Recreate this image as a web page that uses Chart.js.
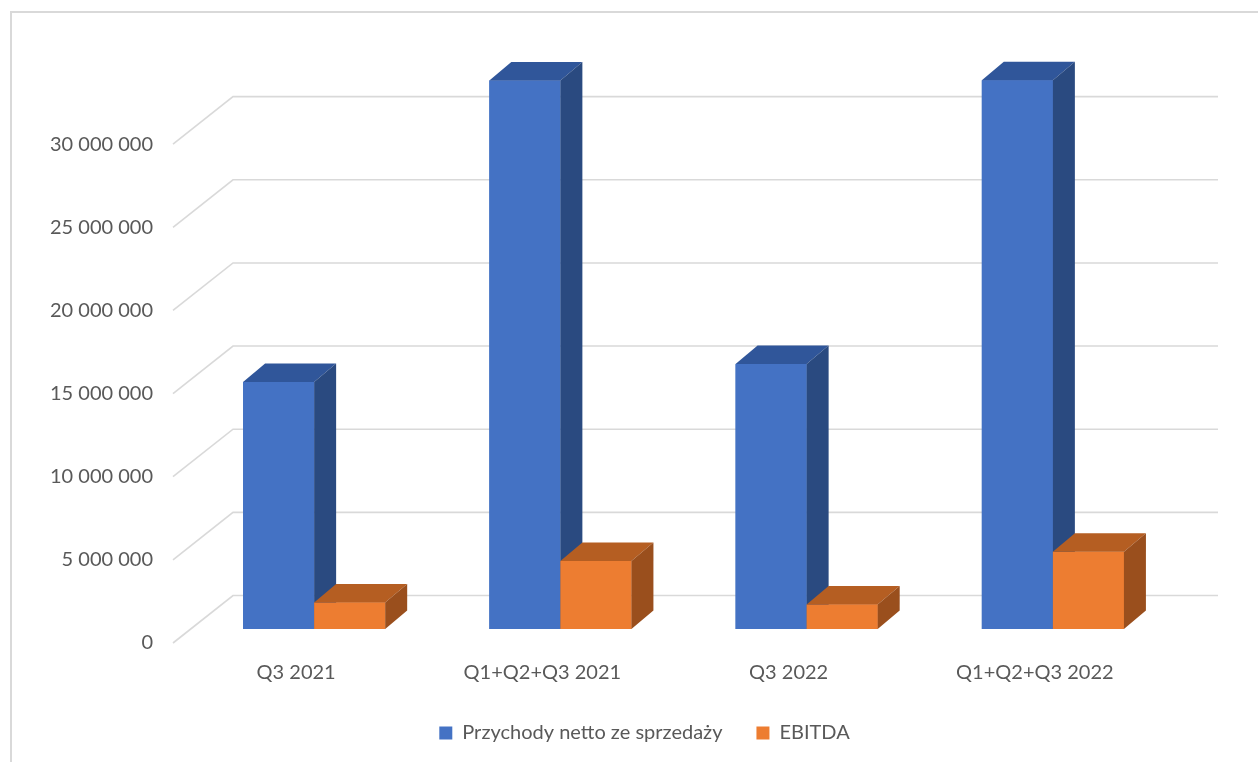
<!DOCTYPE html>
<html>
<head>
<meta charset="utf-8">
<script src="https://cdn.jsdelivr.net/npm/chart.js@4"></script>
<style>
  html, body { margin: 0; padding: 0; background: #fff; overflow: hidden; }
</style>
</head>
<body>
<canvas id="myChart" width="1258" height="762"></canvas>
<script>
// data
const categories = ['Q3 2021', 'Q1+Q2+Q3 2021', 'Q3 2022', 'Q1+Q2+Q3 2022'];
const seriesNames = ['Przychody netto ze sprzedaży', 'EBITDA'];
const revenue = [14860000, 32990000, 15930000, 33000000];
const ebitda = [1600000, 4090000, 1480000, 4650000];
const yTicks = [0, 5000000, 10000000, 15000000, 20000000, 25000000, 30000000];

// 3d look (excel style)
const wall = { dx: 60, dy: -47.5 };
const barShift = { dx: 18, dy: -14 };
const barDepth = { dx: 22, dy: -18.5 };
const faces = [
    { top: '#30569A', side: '#2A4A80' },
    { top: '#B55E22', side: '#9A4F1D' }
];
const textColor = '#595959';
const fontFamily = 'Lato, "Open Sans", sans-serif';

function fmt(v) {
    return String(v).replace(/\B(?=(\d{3})+(?!\d))/g, ' ');
}

const box3d = {
    id: 'box3d',
    beforeDraw(chart) {
        const ctx = chart.ctx;
        ctx.save();
        ctx.fillStyle = '#fff';
        ctx.fillRect(0, 0, chart.width, chart.height);
        ctx.strokeStyle = '#D9D9D9';
        ctx.lineWidth = 2;
        ctx.strokeRect(11, 12, 2000, 2000);
        ctx.restore();
    },
    beforeDatasetsDraw(chart) {
        const ctx = chart.ctx;
        const y = chart.scales.y;
        const area = chart.chartArea;
        ctx.save();
        ctx.strokeStyle = '#D9D9D9';
        ctx.lineWidth = 1.6;
        y.ticks.forEach(t => {
            const py = y.getPixelForValue(t.value);
            ctx.beginPath();
            ctx.moveTo(area.left, py);
            ctx.lineTo(area.left + wall.dx, py + wall.dy);
            ctx.lineTo(area.right + wall.dx, py + wall.dy);
            ctx.stroke();
        });
        ctx.restore();
        // bars sit in the middle of the depth
        ctx.save();
        ctx.translate(barShift.dx, barShift.dy);
    },
    afterDatasetsDraw(chart) {
        const ctx = chart.ctx;
        // paint boxes series by series so the orange front covers the blue side
        chart.data.datasets.forEach((ds, i) => {
            const c = faces[i];
            chart.getDatasetMeta(i).data.forEach(bar => {
                const p = bar.getProps(['x', 'y', 'base', 'width'], true);
                const l = p.x - p.width / 2, r = p.x + p.width / 2;
                ctx.fillStyle = bar.options.backgroundColor;
                ctx.fillRect(l, p.y, p.width, p.base - p.y);
                ctx.fillStyle = c.top;
                ctx.beginPath();
                ctx.moveTo(l, p.y);
                ctx.lineTo(r, p.y);
                ctx.lineTo(r + barDepth.dx, p.y + barDepth.dy);
                ctx.lineTo(l + barDepth.dx, p.y + barDepth.dy);
                ctx.closePath();
                ctx.fill();
                ctx.fillStyle = c.side;
                ctx.beginPath();
                ctx.moveTo(r, p.y);
                ctx.lineTo(r + barDepth.dx, p.y + barDepth.dy);
                ctx.lineTo(r + barDepth.dx, p.base + barDepth.dy);
                ctx.lineTo(r, p.base);
                ctx.closePath();
                ctx.fill();
            });
        });
        ctx.restore();
    }
};

const ctx = document.getElementById('myChart').getContext('2d');
new Chart(ctx, {
    type: 'bar',
    data: {
        labels: categories,
        datasets: [{
            label: seriesNames[0],
            data: revenue,
            backgroundColor: '#4472C4',
            clip: false,
            categoryPercentage: 0.577,
            barPercentage: 1
        }, {
            label: seriesNames[1],
            data: ebitda,
            backgroundColor: '#ED7D31',
            clip: false,
            categoryPercentage: 0.577,
            barPercentage: 1
        }]
    },
    options: {
        responsive: false,
        animation: false,
        layout: { padding: { left: 0, right: -31, top: 61, bottom: 9 } },
        plugins: {
            tooltip: { enabled: false },
            legend: {
                position: 'bottom',
                labels: {
                    boxWidth: 13,
                    boxHeight: 13,
                    padding: 34,
                    color: textColor,
                    font: { family: fontFamily, size: 20 }
                }
            }
        },
        scales: {
            x: {
                grid: { display: false, drawTicks: false },
                border: { display: false },
                ticks: { color: textColor, font: { family: fontFamily, size: 20 }, padding: 18 },
                afterFit(s) { s.height = 46; }
            },
            y: {
                min: 0,
                max: 35000000,
                grid: { display: false, drawTicks: false },
                border: { display: false },
                afterBuildTicks(s) { s.ticks = yTicks.map(v => ({ value: v })); },
                ticks: {
                    color: textColor,
                    font: { family: fontFamily, size: 20 },
                    padding: 20,
                    callback: v => fmt(v)
                },
                afterFit(s) { s.width = 173; }
            },
            // empty right box, keeps the plot width and centres the legend like the original
            y2: {
                position: 'right',
                grid: { display: false, drawTicks: false },
                border: { display: false },
                ticks: { display: false },
                afterFit(s) { s.width = 131; }
            }
        }
    },
    plugins: [box3d]
});
</script>
</body>
</html>
